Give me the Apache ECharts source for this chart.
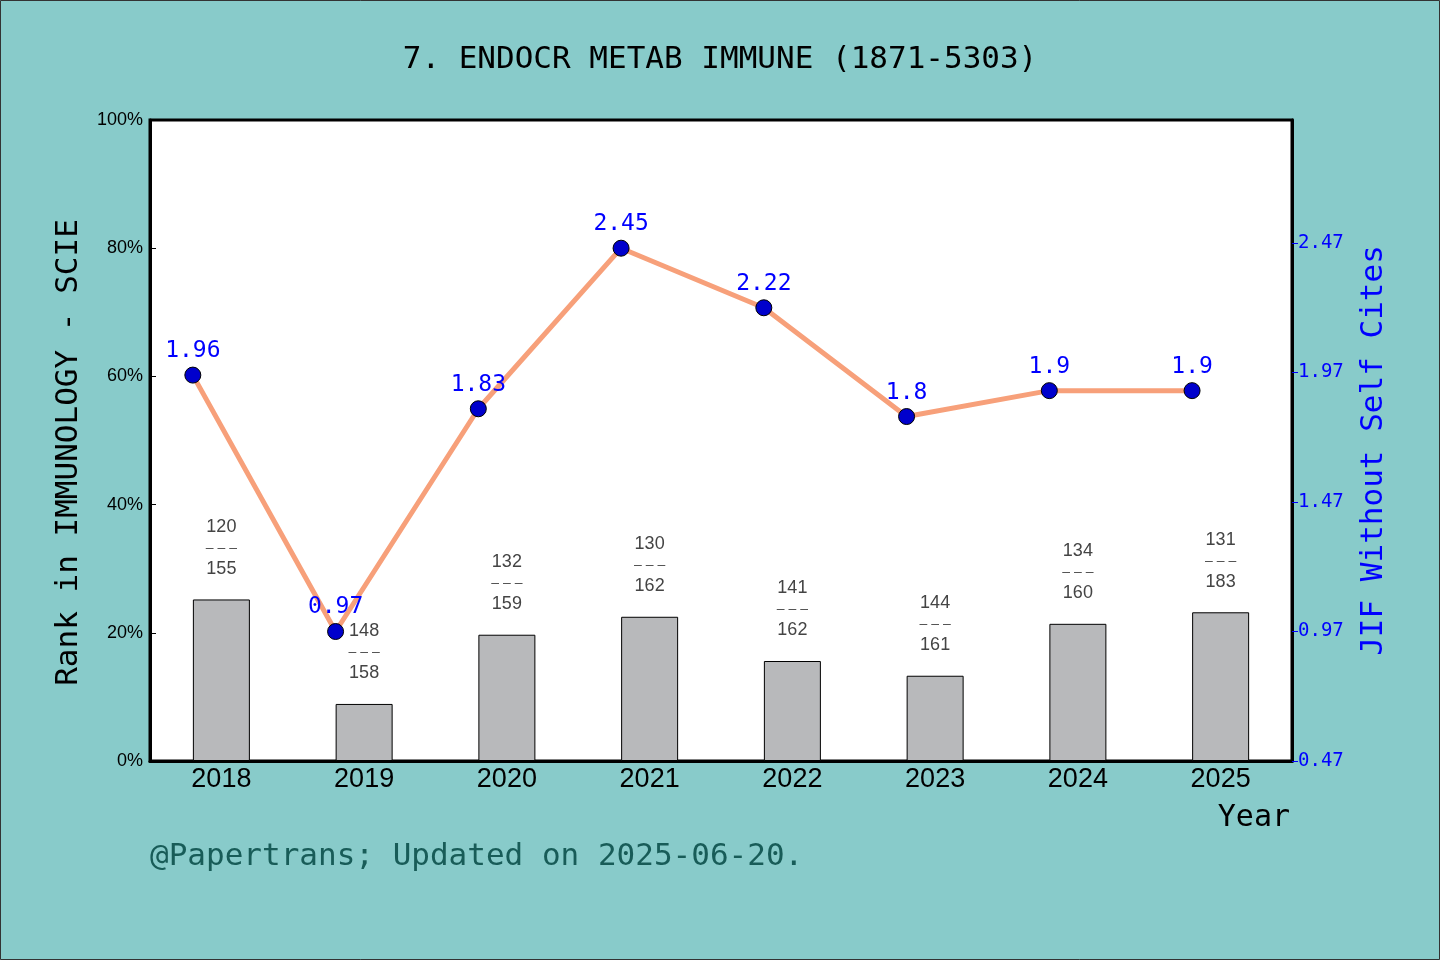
<!DOCTYPE html>
<html>
<head>
<meta charset="UTF-8">
<title>ENDOCR METAB IMMUNE</title>
<script src="https://cdn.jsdelivr.net/npm/echarts@6/dist/echarts.min.js"></script>
<style>
  html, body { margin: 0; padding: 0; background: #88cbca; }
  #main { width: 1440px; height: 960px; }
</style>
</head>
<body>
<div id="main"></div>
<script>
// years on the x axis
var years = ['2018', '2019', '2020', '2021', '2022', '2023', '2024', '2025'];
// bar height: rank percentage
var rankPct = [25.2, 8.9, 19.7, 22.5, 15.6, 13.3, 21.4, 23.2];
// rank / total shown above bars
var rankPos = [120, 148, 132, 130, 141, 144, 134, 131];
var rankTotal = [155, 158, 159, 162, 162, 161, 160, 183];
// JIF without self cites
var jif = [1.96, 0.97, 1.83, 2.45, 2.22, 1.8, 1.9, 1.9];
var leftTicks = ['0%', '20%', '40%', '60%', '80%', '100%'];

var mono = '"DejaVu Sans Mono", "Liberation Mono", monospace';
var sans = '"Liberation Sans", Arial, sans-serif';

var myChart = echarts.init(document.getElementById('main'));

// line points sit a bit left of the bar centre
var lineData = jif.map(function (v, i) { return [i + 0.3, v]; });

var option = {
    backgroundColor: '#88cbca',
    animation: false,
    title: {
        text: '7. ENDOCR METAB IMMUNE (1871-5303)',
        left: 'center',
        top: 39,
        textStyle: { fontFamily: mono, fontSize: 31, fontWeight: 'normal', color: '#000' }
    },
    grid: { left: 150, right: 148, top: 120, bottom: 199, show: true, backgroundColor: '#fff', borderColor: '#000', borderWidth: 3 },
    xAxis: [{
        type: 'category',
        data: years,
        axisLine: { lineStyle: { color: '#000', width: 3 } },
        axisTick: { inside: true, length: 5, lineStyle: { color: '#000' } },
        axisLabel: { fontFamily: sans, fontSize: 27, color: '#000', margin: 5 }
    }, {
        type: 'value',
        min: 0, max: 8,
        show: false
    }],
    yAxis: [{
        type: 'value',
        min: 0, max: 100, interval: 20,
        name: 'Rank in IMMUNOLOGY - SCIE',
        nameLocation: 'middle',
        nameRotate: 90,
        nameGap: 66,
        nameTextStyle: { fontFamily: mono, fontSize: 31, color: '#000', padding: [0, 24, 0, 0] },
        axisLine: { show: true, lineStyle: { color: '#000', width: 3 } },
        axisTick: { show: true, inside: true, length: 6, lineStyle: { color: '#000' } },
        axisLabel: {
            fontFamily: sans, fontSize: 18, color: '#000', margin: 7,
            formatter: function (v) { return leftTicks[v / 20]; }
        },
        splitLine: { show: false }
    }, {
        type: 'value',
        position: 'right',
        min: 0.47, max: 2.945, interval: 0.5,
        name: 'JIF Without Self Cites',
        nameLocation: 'middle',
        nameRotate: 90,
        nameGap: 66,
        nameTextStyle: { fontFamily: mono, fontSize: 31, color: '#0000ff', padding: [0, 20, 0, 0] },
        axisLine: { show: true, lineStyle: { color: '#000', width: 3 } },
        axisTick: { show: true, length: 6, lineStyle: { color: '#0000ff' } },
        axisLabel: {
            fontFamily: mono, fontSize: 19, color: '#0000ff', margin: 6, showMaxLabel: false,
            formatter: function (v) { return v.toFixed(2); }
        },
        splitLine: { show: false }
    }],
    series: [{
        type: 'bar',
        data: rankPct,
        barWidth: 57,
        itemStyle: { color: '#b8b9bb', borderColor: '#000', borderWidth: 1 },
        label: {
            show: true,
            position: 'top',
            distance: 20,
            fontFamily: sans,
            fontSize: 18,
            lineHeight: 21,
            color: '#444',
            formatter: function (p) {
                return rankPos[p.dataIndex] + '\n{d|– – –}\n' + rankTotal[p.dataIndex];
            },
            rich: { d: { fontFamily: sans, fontSize: 14, lineHeight: 21, color: '#555' } }
        },
        z: 2
    }, {
        type: 'line',
        xAxisIndex: 1,
        yAxisIndex: 1,
        data: lineData,
        symbol: 'circle',
        symbolSize: 16,
        lineStyle: { color: '#f7a07a', width: 5 },
        itemStyle: { color: '#0000cc', borderColor: '#000', borderWidth: 1 },
        label: {
            show: true,
            position: 'top',
            distance: 4,
            fontFamily: mono,
            fontSize: 23,
            color: '#0000ff',
            formatter: function (p) { return String(p.value[1]); }
        },
        z: 5
    }],
    graphic: [{
        type: 'text',
        right: 150,
        top: 803,
        style: { text: 'Year', font: '30px ' + mono, fill: '#000' }
    }, {
        type: 'text',
        left: 150,
        top: 841,
        style: { text: '@Papertrans; Updated on 2025-06-20.', font: '31px ' + mono, fill: '#185c58' }
    }, {
        type: 'rect',
        shape: { x: 0.5, y: 0.5, width: 1439, height: 959 },
        style: { fill: 'none', stroke: '#333', lineWidth: 1 },
        silent: true
    }]
};

myChart.setOption(option, true);
</script>
</body>
</html>
